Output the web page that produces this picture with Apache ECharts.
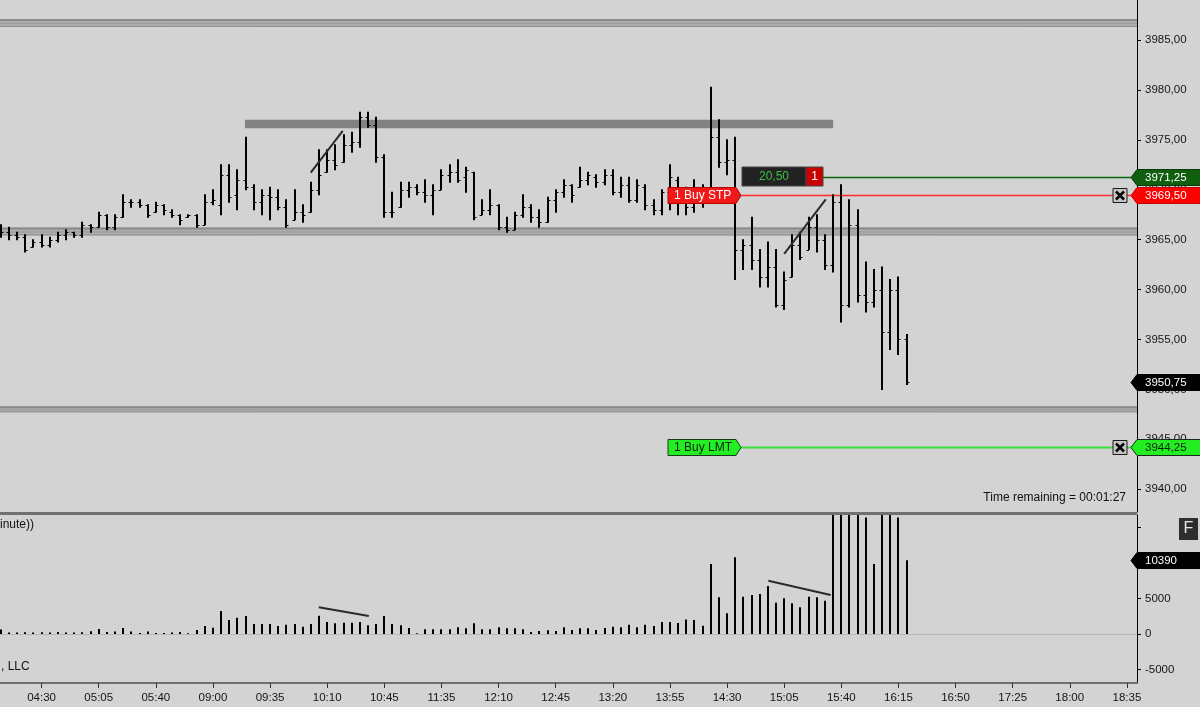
<!DOCTYPE html>
<html>
<head>
<meta charset="utf-8">
<script src="https://cdn.jsdelivr.net/npm/echarts@6/dist/echarts.min.js"></script>
<style>
html,body{margin:0;padding:0;background:#d3d3d3;}
#main{width:1200px;height:707px;}
</style>
</head>
<body>
<div id="main"></div>
<script>
// ---------------- DATA ----------------
const tickLabels = ['04:30','05:05','05:40','09:00','09:35','10:10','10:45','11:35','12:10','12:45',
  '13:20','13:55','14:30','15:05','15:40','16:15','16:50','17:25','18:00','18:35'];

const barOpen = [
 3966.25,3965.75,3965.5,3965.25,3964.25,3964.75,3964.5,3965.0,3965.5,3965.75,
 3965.5,3966.5,3966.25,3967.5,3966.25,3967.25,3968.75,3968.75,3968.5,3967.75,
 3968.5,3967.75,3967.5,3967.25,3967.5,3966.5,3968.75,3968.5,3971.5,3969.5,
 3971.0,3970.25,3968.75,3969.5,3969.25,3968.25,3967.0,3967.75,3967.75,3970.0,
 3971.75,3973.0,3972.75,3974.5,3974.75,3977.25,3976.5,3973.25,3967.75,3968.25,
 3970.0,3970.25,3969.75,3969.5,3970.0,3971.5,3971.75,3971.25,3971.75,3967.5,
 3968.0,3968.5,3966.25,3966.0,3967.5,3968.25,3967.25,3966.75,3969.0,3969.75,
 3970.5,3970.25,3971.0,3971.25,3970.75,3971.5,3969.75,3970.5,3969.0,3970.25,
 3968.5,3968.0,3969.75,3971.0,3968.75,3968.25,3969.5,3969.5,3975.25,3972.75,
 3973.0,3964.0,3964.5,3963.0,3961.25,3962.25,3958.5,3961.25,3964.5,3964.0,
 3966.25,3965.0,3962.5,3968.75,3958.5,3966.5,3959.5,3958.75,3960.0,3955.75,
 3960.0,3955.0];

const barHigh = [
 3966.5,3966.25,3965.75,3965.5,3965.0,3965.5,3965.25,3965.75,3966.0,3965.75,
 3966.75,3966.5,3967.75,3967.5,3967.5,3969.5,3969.0,3969.0,3968.5,3968.75,
 3968.5,3968.0,3967.5,3967.5,3967.5,3969.5,3970.0,3972.5,3972.5,3972.0,
 3975.25,3970.5,3970.0,3970.25,3970.0,3969.0,3970.0,3968.5,3970.75,3974.0,
 3974.0,3974.5,3975.5,3975.75,3977.75,3977.75,3977.25,3973.5,3969.75,3970.75,
 3970.75,3970.5,3971.0,3970.5,3972.0,3972.5,3973.0,3972.25,3971.75,3969.0,
 3970.0,3968.5,3967.25,3967.75,3969.5,3968.5,3968.0,3969.25,3970.0,3971.0,
 3970.5,3972.25,3971.75,3971.5,3972.0,3972.0,3971.25,3971.25,3971.0,3970.5,
 3969.0,3970.0,3972.5,3971.25,3970.25,3971.0,3970.5,3980.25,3977.0,3975.0,
 3975.25,3965.0,3967.25,3964.0,3964.75,3964.0,3961.75,3965.5,3965.75,3967.25,
 3967.5,3965.5,3969.5,3970.5,3969.0,3968.0,3962.75,3962.0,3962.25,3961.0,
 3961.25,3955.5];

const barLow = [
 3965.25,3965.0,3965.0,3963.75,3964.25,3964.25,3964.25,3964.75,3965.0,3965.25,
 3965.25,3965.75,3966.25,3966.0,3966.0,3967.25,3968.25,3968.25,3967.25,3967.75,
 3967.5,3967.25,3966.5,3967.25,3966.25,3966.5,3968.5,3967.5,3968.75,3968.0,
 3970.0,3968.0,3967.5,3967.0,3968.0,3966.25,3967.0,3966.75,3967.75,3969.5,
 3971.75,3972.0,3972.75,3973.75,3974.25,3976.25,3972.75,3967.25,3967.25,3968.25,
 3969.25,3969.5,3968.75,3967.5,3970.0,3970.75,3970.75,3969.75,3967.0,3967.5,
 3967.5,3966.0,3965.75,3966.0,3967.25,3966.75,3966.25,3966.75,3967.75,3969.25,
 3968.75,3970.25,3970.5,3970.25,3970.5,3969.5,3969.25,3968.75,3968.75,3968.0,
 3967.5,3967.5,3968.0,3967.5,3967.5,3967.75,3968.25,3969.5,3972.25,3971.5,
 3961.0,3962.0,3962.0,3960.25,3960.25,3958.25,3958.0,3961.25,3963.0,3964.0,
 3963.75,3962.0,3961.75,3956.75,3958.25,3958.75,3957.75,3958.25,3950.0,3954.0,
 3953.5,3950.5];

const barClose = [
 3965.75,3965.5,3965.25,3964.0,3964.75,3964.5,3965.0,3965.5,3965.75,3965.5,
 3966.5,3966.25,3967.5,3966.25,3967.25,3968.75,3968.75,3968.5,3967.5,3968.5,
 3968.0,3967.5,3967.0,3967.5,3966.5,3968.75,3969.0,3971.5,3969.25,3971.0,
 3970.25,3968.75,3969.5,3969.25,3968.25,3966.5,3967.75,3967.5,3970.0,3971.5,
 3973.0,3972.5,3974.5,3974.75,3977.25,3976.5,3973.25,3967.75,3967.75,3970.0,
 3970.25,3969.75,3969.5,3970.0,3971.5,3971.75,3971.0,3972.0,3967.25,3968.0,
 3968.5,3966.25,3966.0,3967.5,3968.25,3967.25,3966.75,3969.0,3969.75,3970.5,
 3969.5,3971.0,3971.5,3970.75,3971.5,3969.75,3970.5,3969.0,3970.5,3968.5,
 3968.0,3969.75,3971.25,3968.75,3968.25,3969.5,3969.0,3975.25,3972.75,3973.0,
 3964.0,3964.5,3963.0,3961.25,3962.25,3958.5,3961.0,3964.5,3963.25,3966.25,
 3965.0,3962.5,3968.75,3958.5,3966.5,3959.5,3958.75,3960.0,3955.75,3960.0,
 3955.0,3950.75];

const volume = [
 650,200,200,250,200,250,200,300,200,200,
 250,400,700,300,350,850,350,150,350,150,
 150,200,300,100,560,1130,890,3240,1970,2300,
 2530,1410,1410,1410,1130,1310,1410,1030,1410,2580,
 1690,1500,1600,1600,1690,1220,1410,2530,1410,1220,
 850,100,660,660,660,660,940,800,1500,660,
 660,940,800,800,660,280,420,520,420,940,
 560,800,800,560,850,1030,940,1310,940,1310,
 1130,1690,1690,1550,2060,1970,1170,9860,5160,2910,
 10800,5260,5490,5630,6760,4410,5020,4320,3760,5260,
 5160,4690,22000,25000,20000,18000,16400,9860,24000,19000,
 16400,10390];

const priceTicks = [3940,3945,3950,3955,3960,3965,3970,3975,3980,3985];
const volumeTicks = [-5000,0,5000,10000,15000];
const volumeLabelTicks = [-5000,0,5000];

const lastPrice = 3950.75;
const positionPrice = 3971.25;
const stopPrice = 3969.50;
const limitPrice = 3944.25;
const lastVolume = 10390;
const positionPnl = '20,50';
const positionQty = '1';
const orderLabels = ['1 Buy STP', '1 Buy LMT'];

// horizontal line drawings: [top price, bottom price]
const hBands = [[3987.1, 3986.3], [3966.22, 3965.42], [3948.3, 3947.7]];
// rectangle drawing: [start bar, end bar, top price, bottom price]
const resistanceZones = [[29.92, 102.0, 3977.0, 3976.15]];
// trend lines: [bar1, value1, bar2, value2]
const priceTrendlines = [[37.98, 3971.7, 41.9, 3975.9], [96.0, 3963.57, 101.1, 3969.04]];
const volumeTrendlines = [[38.96, 3760, 45.1, 2535], [94.06, 7507, 101.7, 5493]];

// ---------------- CHART ----------------
const FONT = '"Liberation Sans", Arial, Helvetica, sans-serif';
const ORDER_ANCHOR = 90.71;
const fmtPrice = v => Number(v).toFixed(2).replace('.', ',');
const tickIndex = tickLabels.map((_, i) => 5 + 7 * i);

const ohlcData = barOpen.map((o, i) => [i, o, barHigh[i], barLow[i], barClose[i]]);
const volData = volume.map((v, i) => [i, v]);

function renderOHLC(params, api) {
  const k = api.value(0);
  const pH = api.coord([k, api.value(2)]);
  const pL = api.coord([k, api.value(3)]);
  const pO = api.coord([k, api.value(1)]);
  const pC = api.coord([k, api.value(4)]);
  const x = Math.round(pH[0]);
  const yo = Math.round(pO[1]) + 0.5;
  const yc = Math.round(pC[1]) + 0.5;
  return {type: 'group', children: [
    {type: 'line', shape: {x1: x, y1: pH[1] - 0.5, x2: x, y2: pL[1] + 0.5}, style: {stroke: '#000', lineWidth: 2}},
    {type: 'line', shape: {x1: x - 2.5, y1: yo, x2: x, y2: yo}, style: {stroke: '#000', lineWidth: 1}},
    {type: 'line', shape: {x1: x, y1: yc, x2: x + 2.5, y2: yc}, style: {stroke: '#000', lineWidth: 1}}
  ]};
}

function renderVolume(params, api) {
  const cs = params.coordSys;
  const p0 = api.coord([api.value(0), 0]);
  const p1 = api.coord([api.value(0), api.value(1)]);
  const x = Math.round(p0[0]);
  const top = Math.max(p1[1], cs.y);
  return {type: 'line', shape: {x1: x, y1: p0[1], x2: x, y2: top}, style: {stroke: '#000', lineWidth: 2}};
}

function renderZero(params, api) {
  const cs = params.coordSys;
  const y = Math.round(api.coord([0, 0])[1]) + 0.5;
  return {type: 'line', shape: {x1: cs.x, y1: y, x2: cs.x + cs.width, y2: y}, style: {stroke: '#b6b6b6', lineWidth: 1}};
}

function renderBand(params, api) {
  const cs = params.coordSys;
  const y1 = api.coord([0, api.value(1)])[1];
  const y2 = api.coord([0, api.value(2)])[1];
  return {type: 'group', children: [
    {type: 'rect', shape: {x: cs.x, y: y1, width: cs.width, height: y2 - y1}, style: {fill: '#adadad'}},
    {type: 'line', shape: {x1: cs.x, y1: y1 + 1, x2: cs.x + cs.width, y2: y1 + 1}, style: {stroke: '#8a8a8a', lineWidth: 2}},
    {type: 'line', shape: {x1: cs.x, y1: (y1 + y2) / 2 + 0.5, x2: cs.x + cs.width, y2: (y1 + y2) / 2 + 0.5}, style: {stroke: '#9a9a9a', lineWidth: 1}},
    {type: 'line', shape: {x1: cs.x, y1: y2 - 0.5, x2: cs.x + cs.width, y2: y2 - 0.5}, style: {stroke: '#8f8f8f', lineWidth: 1}}
  ]};
}

function renderZone(params, api) {
  const a = api.coord([api.value(0), api.value(2)]);
  const b = api.coord([api.value(1), api.value(3)]);
  return {type: 'rect', shape: {x: a[0], y: a[1], width: b[0] - a[0], height: b[1] - a[1]}, style: {fill: '#828282'}};
}

function renderTrend(params, api) {
  const a = api.coord([api.value(0), api.value(1)]);
  const b = api.coord([api.value(2), api.value(3)]);
  return {type: 'line', shape: {x1: a[0], y1: a[1], x2: b[0], y2: b[1]}, style: {stroke: '#2a2a2a', lineWidth: 2}};
}

function closeBox(xr, yc) {
  return {type: 'group', children: [
    {type: 'rect', shape: {x: xr - 24, y: yc - 7, width: 14, height: 14}, style: {fill: '#c6c6c6', stroke: '#1a1a1a', lineWidth: 1}},
    {type: 'line', shape: {x1: xr - 21, y1: yc - 4, x2: xr - 13, y2: yc + 4}, style: {stroke: '#000', lineWidth: 2.5}},
    {type: 'line', shape: {x1: xr - 21, y1: yc + 4, x2: xr - 13, y2: yc - 4}, style: {stroke: '#000', lineWidth: 2.5}}
  ]};
}

const orderLineStyles = [
  {stroke: '#ff2a2a', lineWidth: 1.5},
  {stroke: '#3be23b', lineWidth: 2},
  {stroke: '#0a650a', lineWidth: 1.5}
];
function renderOrderLine(params, api) {
  const cs = params.coordSys;
  const i = params.dataIndex;
  const p = api.coord([ORDER_ANCHOR, api.value(1)]);
  const xEnd = cs.x + cs.width - 6;
  const yc = Math.round(p[1]) + 0.5;
  const xStart = i === 2 ? p[0] + 82 : p[0];
  const children = [{type: 'line', shape: {x1: xStart, y1: yc, x2: xEnd, y2: yc}, style: orderLineStyles[i]}];
  if (i < 2) children.push(closeBox(cs.x + cs.width, yc));
  return {type: 'group', children};
}

const orderLabelStyles = [
  {fill: '#f01818', stroke: '#b00000', text: '#ffffff'},
  {fill: '#22ee22', stroke: '#1a3a1a', text: '#0d1f0d'}
];
function renderOrderLabel(params, api) {
  const i = params.dataIndex;
  const p = api.coord([ORDER_ANCHOR, api.value(1)]);
  const xr = p[0];
  const yc = Math.round(p[1]) + 0.5;
  const st = orderLabelStyles[i];
  const w = 73;
  return {type: 'group', children: [
    {type: 'polygon', shape: {points: [[xr - w, yc - 8], [xr - 5, yc - 8], [xr, yc], [xr - 5, yc + 8], [xr - w, yc + 8]]},
      style: {fill: st.fill, stroke: st.stroke, lineWidth: 1}},
    {type: 'text', style: {text: orderLabels[i], x: xr - w + 6, y: yc + 0.5, fill: st.text, font: '12px ' + FONT,
      textAlign: 'left', textVerticalAlign: 'middle'}}
  ]};
}

function renderPosition(params, api) {
  const p = api.coord([ORDER_ANCHOR, api.value(1)]);
  const x = p[0] + 1;
  const yc = Math.round(p[1]);
  return {type: 'group', children: [
    {type: 'rect', shape: {x: x, y: yc - 10, width: 64, height: 19}, style: {fill: '#222222', stroke: '#444', lineWidth: 1}},
    {type: 'rect', shape: {x: x + 64, y: yc - 10, width: 17, height: 19}, style: {fill: '#c80000', stroke: '#444', lineWidth: 1}},
    {type: 'text', style: {text: positionPnl, x: x + 32, y: yc, fill: '#3fbf3f', font: '12px ' + FONT, textAlign: 'center', textVerticalAlign: 'middle'}},
    {type: 'text', style: {text: positionQty, x: x + 72.5, y: yc, fill: '#ffffff', font: '12px ' + FONT, textAlign: 'center', textVerticalAlign: 'middle'}}
  ]};
}

const priceFlagStyles = [
  {fill: '#0f5f0f', stroke: '#0a3a0a', text: '#ffffff'},
  {fill: '#ff0000', stroke: '#c00000', text: '#ffffff'},
  {fill: '#000000', stroke: '#000000', text: '#ffffff'},
  {fill: '#22ee22', stroke: '#1a2a1a', text: '#0d1f0d'}
];
function flagGroup(cs, yc, st, label) {
  const x0 = cs.x + cs.width;
  const h = 16;
  return {type: 'group', children: [
    {type: 'polygon', shape: {points: [[x0 - 6, yc], [x0, yc - h / 2], [x0 + 64, yc - h / 2], [x0 + 64, yc + h / 2], [x0, yc + h / 2]]},
      style: {fill: st.fill, stroke: st.stroke, lineWidth: 1}},
    {type: 'text', style: {text: label, x: x0 + 8, y: yc + 0.5, fill: st.text, font: '11.5px ' + FONT, textAlign: 'left', textVerticalAlign: 'middle'}}
  ]};
}
function renderPriceFlag(params, api) {
  const yc = Math.round(api.coord([0, api.value(1)])[1]) + 0.5;
  return flagGroup(params.coordSys, yc, priceFlagStyles[params.dataIndex], fmtPrice(api.value(1)));
}
function renderVolumeFlag(params, api) {
  const yc = Math.round(api.coord([0, api.value(1)])[1]) + 0.5;
  return flagGroup(params.coordSys, yc, priceFlagStyles[2], String(api.value(1)));
}

const axisFont = {fontSize: 11.5, fontFamily: FONT, color: '#151515'};

const option = {
  backgroundColor: '#d3d3d3',
  animation: false,
  grid: [
    {left: 0, top: 0, width: 1137, height: 512},
    {left: 0, top: 515, width: 1137, height: 168}
  ],
  xAxis: [
    {type: 'value', gridIndex: 0, min: -0.1, max: 139.24, show: true,
      axisLine: {show: false, onZero: false}, axisTick: {show: false}, axisLabel: {show: false}, splitLine: {show: false}},
    {type: 'value', gridIndex: 1, min: -0.1, max: 139.24,
      axisLine: {show: true, onZero: false, lineStyle: {color: '#6e6e6e', width: 2}},
      axisTick: {show: true, customValues: tickIndex, length: 5, lineStyle: {color: '#333', width: 1}},
      axisLabel: {show: true, customValues: tickIndex, margin: 9, ...axisFont,
        formatter: v => tickLabels[Math.round((v - 5) / 7)] || ''},
      splitLine: {show: false}}
  ],
  yAxis: [
    {type: 'value', gridIndex: 0, position: 'right', min: 3937.72, max: 3989.0,
      axisLine: {show: true, onZero: false, lineStyle: {color: '#000', width: 1}},
      axisTick: {show: true, customValues: priceTicks, length: 4, lineStyle: {color: '#000'}},
      axisLabel: {show: true, customValues: priceTicks, margin: 8, ...axisFont, formatter: v => fmtPrice(v)},
      splitLine: {show: false}},
    {type: 'value', gridIndex: 1, position: 'right', min: -6900, max: 16760,
      axisLine: {show: true, onZero: false, lineStyle: {color: '#000', width: 1}},
      axisTick: {show: true, customValues: volumeTicks, length: 4, lineStyle: {color: '#000'}},
      axisLabel: {show: true, customValues: volumeLabelTicks, margin: 8, ...axisFont, formatter: v => String(v)},
      splitLine: {show: false}}
  ],
  series: [
    {type: 'custom', name: 'bands', xAxisIndex: 0, yAxisIndex: 0, z: 1, silent: true,
      data: hBands.map(b => [0, b[0], b[1]]), renderItem: renderBand},
    {type: 'custom', name: 'zone', xAxisIndex: 0, yAxisIndex: 0, z: 2, silent: true,
      data: resistanceZones, renderItem: renderZone},
    {type: 'custom', name: 'orderLines', xAxisIndex: 0, yAxisIndex: 0, z: 3, silent: true,
      data: [[ORDER_ANCHOR, stopPrice], [ORDER_ANCHOR, limitPrice], [ORDER_ANCHOR, positionPrice]], renderItem: renderOrderLine},
    {type: 'custom', name: 'ohlc', xAxisIndex: 0, yAxisIndex: 0, z: 5, silent: true,
      data: ohlcData, renderItem: renderOHLC},
    {type: 'custom', name: 'trendPrice', xAxisIndex: 0, yAxisIndex: 0, z: 6, silent: true,
      data: priceTrendlines, renderItem: renderTrend},
    {type: 'custom', name: 'position', xAxisIndex: 0, yAxisIndex: 0, z: 7, silent: true,
      data: [[ORDER_ANCHOR, positionPrice]], renderItem: renderPosition},
    {type: 'custom', name: 'orderLabels', xAxisIndex: 0, yAxisIndex: 0, z: 8, silent: true,
      data: [[ORDER_ANCHOR, stopPrice], [ORDER_ANCHOR, limitPrice]], renderItem: renderOrderLabel},
    {type: 'custom', name: 'priceFlags', xAxisIndex: 0, yAxisIndex: 0, z: 9, silent: true,
      data: [[0, positionPrice], [0, stopPrice], [0, lastPrice], [0, limitPrice]], renderItem: renderPriceFlag},
    {type: 'custom', name: 'zero', xAxisIndex: 1, yAxisIndex: 1, z: 1, silent: true,
      data: [[0, 0]], renderItem: renderZero},
    {type: 'custom', name: 'volume', xAxisIndex: 1, yAxisIndex: 1, z: 5, silent: true,
      data: volData, renderItem: renderVolume},
    {type: 'custom', name: 'trendVolume', xAxisIndex: 1, yAxisIndex: 1, z: 6, silent: true,
      data: volumeTrendlines, renderItem: renderTrend},
    {type: 'custom', name: 'volumeFlag', xAxisIndex: 1, yAxisIndex: 1, z: 9, silent: true,
      data: [[0, lastVolume]], renderItem: renderVolumeFlag}
  ],
  graphic: [
    {type: 'rect', left: 0, top: 512, shape: {width: 1137, height: 3}, style: {fill: '#6f6f6f'}, z: 10},
    {type: 'text', left: 0, top: 519, style: {text: 'inute))', font: '12px ' + FONT, fill: '#111'}},
    {type: 'text', left: 1, top: 661, style: {text: ', LLC', font: '12px ' + FONT, fill: '#111'}},
    {type: 'text', right: 74, top: 492, style: {text: 'Time remaining = 00:01:27', font: '12px ' + FONT, fill: '#111'}},
    {type: 'group', left: 1179, top: 518, children: [
      {type: 'rect', shape: {x: 0, y: 0, width: 19, height: 22}, style: {fill: '#2e2e2e'}},
      {type: 'text', x: 9.5, y: 11, style: {text: 'F', font: '16px ' + FONT, fill: '#e4e4e4', textAlign: 'center', textVerticalAlign: 'middle'}}
    ]}
  ]
};

const chart = echarts.init(document.getElementById('main'));
chart.setOption(option);
</script>
</body>
</html>
